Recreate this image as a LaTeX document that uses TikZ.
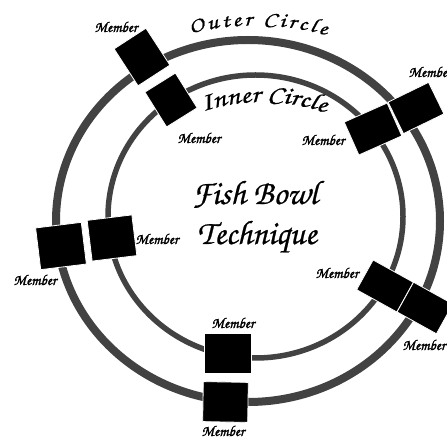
\documentclass[tikz,border=0pt]{standalone}
\usepackage{fontspec}
\newfontfamily\chorus{TeX Gyre Chorus}[FakeBold=0.6]
\newfontfamily\chorusw{TeX Gyre Chorus}[FakeBold=0.8,FakeStretch=1.2]
\newfontfamily\chorusb{TeX Gyre Chorus}[FakeBold=1.5]
\usetikzlibrary{decorations.text}
\definecolor{ring}{HTML}{424242}
\begin{document}
\begin{tikzpicture}[x=1pt,y=1pt,
  member/.style={rectangle,fill=black,draw=white,line width=0.8pt,inner sep=0pt},
  mlabel/.style={inner sep=0pt,font=\chorusb\fontsize{15}{15}\selectfont},
  title/.style={inner sep=0pt,font=\chorus\fontsize{34}{34}\selectfont}]
\useasboundingbox (0,0) rectangle (447,439);
\fill[white] (0,0) rectangle (447,439);
% rings
\draw[ring,line width=8pt] (248,218) ellipse [x radius=192,y radius=181];
\draw[ring,line width=5.5pt] (255.5,222.5) ellipse [x radius=147.5,y radius=141.5];
% member boxes
\node[member,minimum width=38pt,minimum height=44pt,rotate=33] (m1) at (142,382) {};
\node[member,minimum width=36pt,minimum height=41pt,rotate=32] (m2) at (171,339) {};
\node[member,minimum width=46pt,minimum height=42pt,rotate=7] (m3) at (61,193) {};
\node[member,minimum width=45pt,minimum height=41pt,rotate=7] (m4) at (112,201) {};
\node[member,minimum width=47pt,minimum height=40pt,rotate=0] (m5) at (227.5,86) {};
\node[member,minimum width=45pt,minimum height=40pt,rotate=-1] (m6) at (225.5,37) {};
\node[member,minimum width=47pt,minimum height=36pt,rotate=24] (m7) at (373,310) {};
\node[member,minimum width=45pt,minimum height=35pt,rotate=26] (m8) at (416,331) {};
\node[member,minimum width=46pt,minimum height=34pt,rotate=-29] (m9) at (385,153) {};
\node[member,minimum width=45pt,minimum height=34pt,rotate=-29] (m10) at (425,131) {};
% member labels
\node[mlabel] (l1) at (116,412) {Member};
\node[mlabel] (l2) at (199,301) {Member};
\node[mlabel] (l3) at (323,299) {Member};
\node[mlabel] (l4) at (430,367) {Member};
\node[mlabel] (l5) at (157,200) {Member};
\node[mlabel] (l6) at (35,159) {Member};
\node[mlabel] (l7) at (337,166) {Member};
\node[mlabel] (l8) at (424,94) {Member};
\node[mlabel] (l9) at (233,116) {Member};
\node[mlabel] (l10) at (223,8) {Member};
% titles
\node[title,anchor=base] (t1) at (255,235) {Fish Bowl};
\node[title,anchor=base] (t2) at (257,195) {Technique};
% curved labels
\path[decorate,decoration={text along path,text={|\chorusw\fontsize{21}{21}\selectfont|Outer Circle},text align=fit to path}]
  (255,147.5) ++(104.1:266) arc[start angle=104.1,end angle=74.5,radius=266];
\path[decorate,decoration={text along path,text={|\chorusw\fontsize{25}{25}\selectfont|Inner Circle},text align=fit to path}]
  (262,147) ++(108.1:190) arc[start angle=108.1,end angle=70.6,radius=190];
\end{tikzpicture}
\end{document}
